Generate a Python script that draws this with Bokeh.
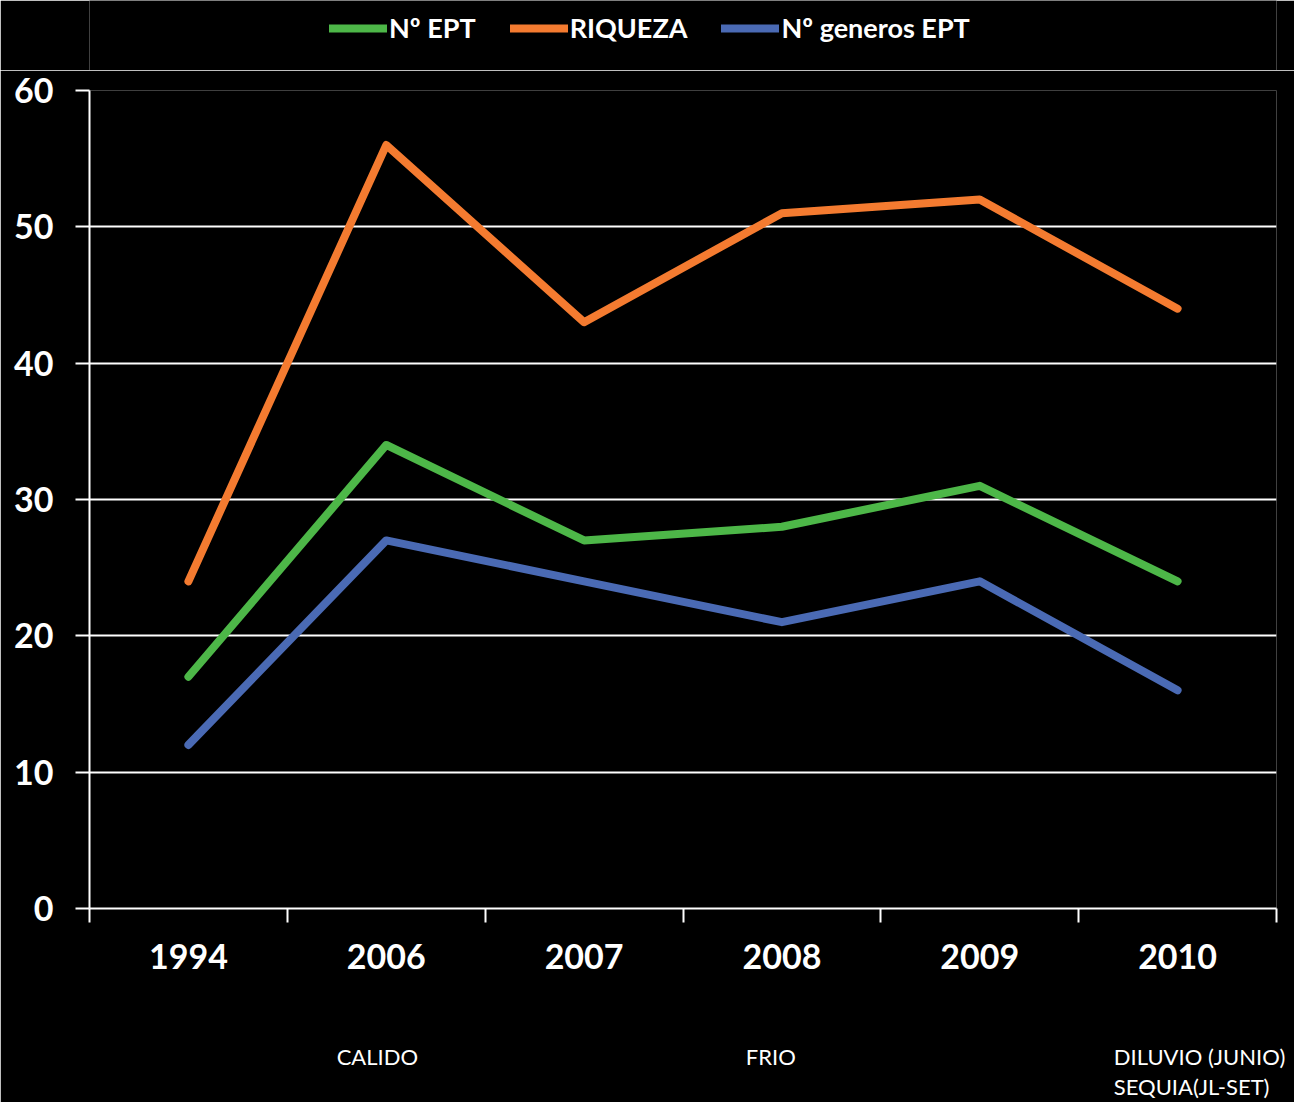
from bokeh.plotting import figure
from bokeh.layouts import column
from bokeh.models import (FixedTicker, Legend, LegendItem, LinearAxis, Range1d)
from bokeh.embed import file_html
from bokeh.resources import INLINE

years = ["1994", "2006", "2007", "2008", "2009", "2010"]
n_ept = [17, 34, 27, 28, 31, 24]
riqueza = [24, 56, 43, 51, 52, 44]
n_generos = [12, 27, 24, 21, 24, 16]
series_names = ["Nº EPT", "RIQUEZA", "Nº generos EPT"]
colors = ["#4DB748", "#F47B30", "#4A6AB4"]
y_ticks = [0, 10, 20, 30, 40, 50, 60]
# (text, category index, row)
annotations = [("CALIDO", 1, 0), ("FRIO", 3, 0),
               ("DILUVIO (JUNIO)", 5, 0), ("SEQUIA(JL-SET)", 5, 1)]
# horizontal nudge of each note, in pixels (style only)
note_offsets_px = [-9, -11, 22, 14]

FONT = "Lato"
W, H = 1294, 1102
LEG_H = 70
LEFT, RIGHT, TOP, BOTTOM = 89, 18, 20, 194
xs = [i + 0.5 for i in range(len(years))]
px_per_cat = (W - LEFT - RIGHT) / len(years)

p = figure(width=W, height=H - LEG_H, output_backend="svg",
           toolbar_location=None,
           x_range=Range1d(0, len(years)), y_range=Range1d(0, 60),
           min_border_left=LEFT, min_border_right=RIGHT, min_border_top=TOP,
           min_border_bottom=BOTTOM)
p.background_fill_color = "black"
p.border_fill_color = "black"
p.outline_line_color = None

for vals, c in zip([n_ept, riqueza, n_generos], colors):
    p.line(xs, vals, line_color=c, line_width=8, line_cap="round",
           line_join="round")

p.xgrid.grid_line_color = None
p.ygrid.grid_line_color = "white"
p.ygrid.grid_line_width = 2
p.yaxis.ticker = FixedTicker(ticks=y_ticks)
p.xaxis.ticker = FixedTicker(ticks=xs, minor_ticks=list(range(len(years) + 1)))
p.xaxis.major_label_overrides = {x: y for x, y in zip(xs, years)}

for ax in (p.xaxis[0], p.yaxis[0]):
    ax.axis_line_color = "white"
    ax.axis_line_width = 2
    ax.major_label_text_color = "white"
    ax.major_label_text_font = FONT
    ax.major_label_text_font_style = "bold"
    ax.major_label_text_font_size = "34px"

p.yaxis.major_tick_out = 14
p.yaxis.major_tick_in = 0
p.yaxis.major_tick_line_color = "white"
p.yaxis.major_tick_line_width = 2
p.yaxis.minor_tick_line_color = None
p.yaxis.major_label_standoff = 22

p.xaxis.major_tick_line_color = None
p.xaxis.major_tick_out = 0
p.xaxis.major_tick_in = 0
p.xaxis.minor_tick_line_color = "white"
p.xaxis.minor_tick_line_width = 2
p.xaxis.minor_tick_out = 14
p.xaxis.minor_tick_in = 0
p.xaxis.major_label_standoff = 21

# note rows as extra label-only axes below
for row, standoff in ((0, 71), (1, 0)):
    ticks, overrides = [], {}
    for (text, idx, r), off in zip(annotations, note_offsets_px):
        if r != row:
            continue
        t = round(idx + 0.5 + off / px_per_cat, 3)
        ticks.append(t)
        overrides[t] = text
    ax = LinearAxis(ticker=FixedTicker(ticks=ticks, minor_ticks=[]),
                    major_label_overrides=overrides)
    ax.axis_line_color = None
    ax.major_tick_line_color = None
    ax.minor_tick_line_color = None
    ax.major_tick_out = 0
    ax.major_tick_in = 0
    ax.major_label_standoff = standoff
    ax.major_label_text_color = "white"
    ax.major_label_text_font = FONT
    ax.major_label_text_font_size = "22px"
    p.add_layout(ax, "below")

# legend strip on top (its frame is aligned with the chart frame)
lf = figure(width=W, height=LEG_H, output_backend="svg", toolbar_location=None,
            x_axis_type=None, y_axis_type=None,
            x_range=Range1d(0, 1), y_range=Range1d(0, 1),
            min_border_left=0, min_border_right=0, min_border_top=0,
            min_border_bottom=0)
lf.background_fill_color = "black"
lf.border_fill_color = "black"
lf.outline_line_color = None
lf.xgrid.visible = False
lf.ygrid.visible = False
# legend proxies: placed outside the visible range of the strip
leg_renderers = [lf.line([-2, -1], [-2, -1], line_color=c, line_width=8,
                         line_cap="round")
                 for c in colors]
legend = Legend(items=[LegendItem(label=n, renderers=[r])
                       for n, r in zip(series_names, leg_renderers)],
                orientation="horizontal", location=(329 - LEFT, 26),
                background_fill_alpha=0, border_line_color=None,
                label_text_color="white", label_text_font=FONT,
                label_text_font_style="bold", label_text_font_size="27px",
                glyph_width=58, glyph_height=24, label_standoff=2,
                spacing=34, padding=0, margin=0)
lf.add_layout(legend, "center")

layout = column(lf, p, spacing=0)
open("out.html", "w").write(file_html(layout, INLINE))
